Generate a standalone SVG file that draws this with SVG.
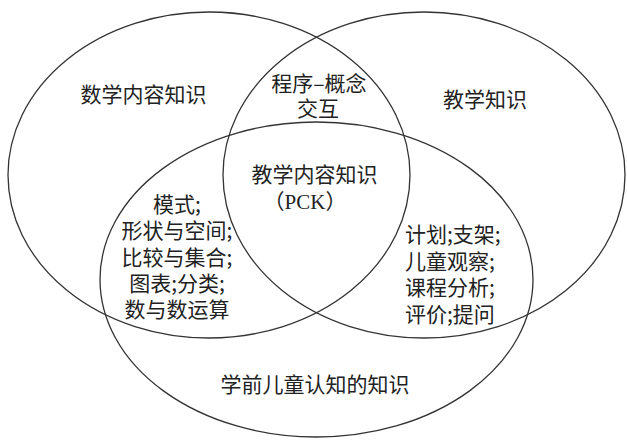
<svg xmlns="http://www.w3.org/2000/svg" width="627" height="441" viewBox="0 0 627 441">
<style>
.ring{fill:none;stroke:#333;stroke-width:1.3}
.t{font-family:"Noto Sans CJK SC","Noto Sans",sans-serif;font-size:21px;fill:#222}
.m{text-anchor:middle}
.lat{font-family:"Liberation Serif",serif}
</style>
<rect width="627" height="441" fill="#fff"/>
<g id="math-content">
<ellipse class="ring" cx="209" cy="175" rx="201" ry="163"/>
<text class="t m" x="143.5" y="102">数学内容知识</text>
</g>
<g id="pedagogy">
<ellipse class="ring" cx="424" cy="175" rx="201" ry="163"/>
<text class="t m" x="485" y="107">教学知识</text>
</g>
<g id="child-cognition">
<ellipse class="ring" cx="316.5" cy="279.5" rx="216.5" ry="157.5"/>
<text class="t m" x="315" y="392">学前儿童认知的知识</text>
</g>
<g id="procedure-concept">
<text class="t m"><tspan x="319" y="91">程序–概念</tspan><tspan x="318" y="116">交互</tspan></text>
</g>
<g id="pck">
<text class="t m"><tspan x="314.5" y="182">教学内容知识</tspan><tspan x="305" y="209">（<tspan class="lat">PCK</tspan>）</tspan></text>
</g>
<g id="math-topics">
<text class="t m"><tspan x="177" y="212">模式;</tspan><tspan x="177" y="238">形状与空间;</tspan><tspan x="177" y="265">比较与集合;</tspan><tspan x="177" y="291">图表;分类;</tspan><tspan x="177" y="317">数与数运算</tspan></text>
</g>
<g id="teaching-practices">
<text class="t"><tspan x="405" y="242">计划;支架;</tspan><tspan x="405" y="269">儿童观察;</tspan><tspan x="405" y="295">课程分析;</tspan><tspan x="405" y="322">评价;提问</tspan></text>
</g>
<g id="connectors"/>
</svg>
